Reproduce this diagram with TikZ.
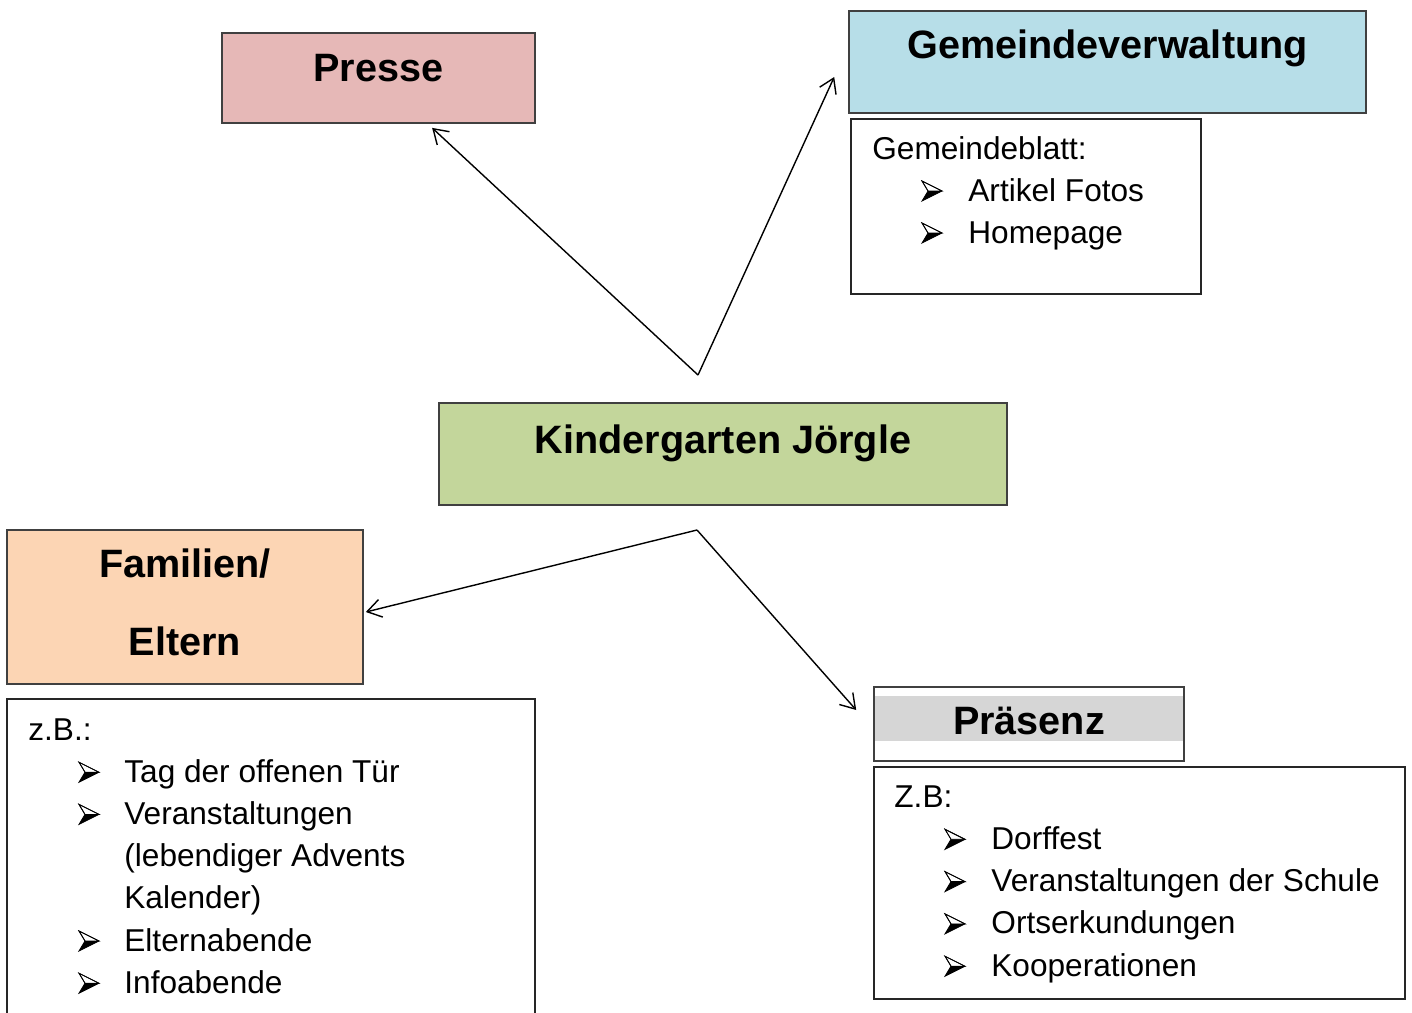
\documentclass[tikz,border=0pt]{standalone}
\usepackage{fontspec}
\setmainfont{Liberation Sans}
\usepackage{tikz}
\usetikzlibrary{calc,arrows.meta,backgrounds,positioning}

\definecolor{presseRed}{HTML}{E6B8B7}
\definecolor{gemeindeBlue}{HTML}{B7DEE8}
\definecolor{kigaGreen}{HTML}{C3D69B}
\definecolor{elternOrange}{HTML}{FCD5B4}
\definecolor{bandGray}{HTML}{D6D6D6}

\begin{document}
\begin{tikzpicture}[
    x=0.5pt, y=-0.5pt,
    title/.style={rectangle, draw=black!75, line width=0.8pt, inner sep=0pt, align=center,
        font=\bfseries\fontsize{19.8}{39}\selectfont},
    listbox/.style={rectangle, draw=black!85, line width=0.8pt, inner sep=0pt},
    txt/.style={inner sep=0pt, anchor=base west, font=\fontsize{15.8}{21}\selectfont},
    bullet/.pic={
        \draw[line width=0.4pt, fill=white] (0,-10) -- (20,0) -- (6,0) -- cycle;
        \fill (6,0) -- (20,0) -- (0,10) -- cycle;
        \draw[line width=0.4pt, line join=miter] (0,-10) -- (20,0) -- (0,10) -- (6,0) -- cycle;
    },
    arrow/.style={-{Straight Barb[length=7pt,width=9pt]}, line width=0.7pt}
]
    \useasboundingbox (0,0) rectangle (1412,1012);

    % title boxes
    \node[title, fill=presseRed, minimum width=156.5pt, text height=24pt, text depth=21pt] (presse) at (378.5,78) {Presse};
    \node[title, fill=gemeindeBlue, minimum width=258.5pt, text height=23.5pt, text depth=27.5pt] (gemeinde) at (1107.5,62) {Gemeindeverwaltung};
    \node[title, fill=kigaGreen, minimum width=284pt, text height=25pt, text depth=26pt] (kiga) at (723,454) {Kindergarten Jörgle};
    \node[title, fill=elternOrange, minimum width=178pt, minimum height=77pt, text depth=5pt] (eltern) at (185,607) {Familien/\\Eltern};
    \node[title, minimum width=155pt, text height=23.5pt, text depth=13.5pt] (praesenz) at (1029,724) {Präsenz};
    \begin{scope}[on background layer]
        \fill[bandGray] ($(praesenz.north west)+(2,10)$) rectangle ($(praesenz.north east)+(-2,55)$);
    \end{scope}

    % list boxes
    \node[listbox, minimum width=175pt, minimum height=87.5pt] (blatt) at (1026,206.5) {};
    \node[listbox, minimum width=264pt, minimum height=165.5pt] (elist) at (271,864.5) {};
    \node[listbox, minimum width=265.5pt, minimum height=116pt] (plist) at (1139.5,883) {};

    % Gemeindeblatt
    \node[txt] (blatt0) at (872,159) {Gemeindeblatt:};
    \foreach \t [count=\i] in {Artikel Fotos, Homepage} {
        \pic at (922,{149+42*\i}) {bullet};
        \node[txt] (blatt\i) at (968,{159+42*\i}) {\t};
    }

    % Familien/Eltern
    \node[txt] (elist0) at (28,740) {z.B.:};
    \foreach \t [count=\i] in {Tag der offenen Tür, Veranstaltungen, {(lebendiger Advents}, {Kalender)}, Elternabende, Infoabende}
        \node[txt] (elist\i) at (124,{740+42.2*\i}) {\t};
    \foreach \i in {1,2,5,6}
        \pic at (79,{730+42.2*\i}) {bullet};

    % Praesenz
    \node[txt] (plist0) at (894,807) {Z.B:};
    \foreach \t [count=\i] in {Dorffest, Veranstaltungen der Schule, Ortserkundungen, Kooperationen} {
        \pic at (945,{797+42.3*\i}) {bullet};
        \node[txt] (plist\i) at (991,{807+42.3*\i}) {\t};
    }

    % connectors
    \coordinate (topv) at (698,375);
    \coordinate (botv) at (697,530);
    \coordinate (gtip) at ($(gemeinde.west)+(-14,15)$);
    \coordinate (etip) at ($(eltern.east)+(2,5)$);
    \coordinate (ptip) at ($(praesenz.west)+(-17,-14)$);
    \draw[arrow, shorten >=3pt] (topv) -- (presse);
    \draw[arrow] (topv) -- (gtip);
    \draw[arrow] (botv) -- (etip);
    \draw[arrow] (botv) -- (ptip);
\end{tikzpicture}
\end{document}
